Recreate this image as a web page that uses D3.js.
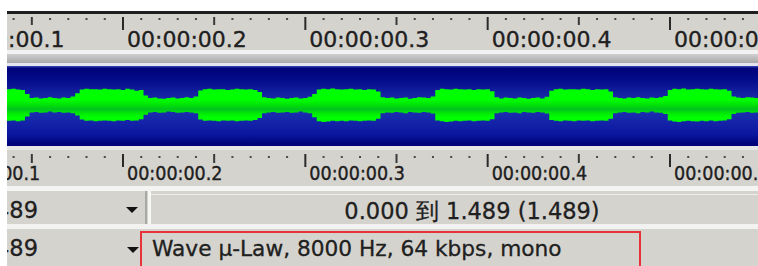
<!DOCTYPE html>
<html><head><meta charset="utf-8">
<script src="https://cdn.jsdelivr.net/npm/d3@7"></script>
<style>body{margin:0;background:#fff}svg{display:block}</style>
</head><body><svg id="c" width="758" height="266"></svg>
<script>
// waveform envelope, sampled every 0.0025 s starting at 0.135 s (amplitude in % of full scale)
const sampleStart = 0.135, sampleStep = 0.0025;
const envTop = [
  38, 42, 43, 41, 40,
  30, 20, 21, 19, 20, 22, 20, 19, 21, 20, 24, 32,
  41, 43, 42, 42, 41, 43, 42, 41, 42, 40, 43, 41, 38, 40,
  26, 20, 21, 19, 18, 20, 21, 19, 20, 22, 20, 24,
  39, 42, 43, 41, 42, 42, 40, 41, 43, 42, 41, 42, 40, 35,
  22, 20, 19, 21, 20, 18, 20, 21, 19, 20, 23,
  30, 41, 43, 42, 44, 42, 41, 42, 43, 41, 42, 40, 42, 41, 36,
  22, 20, 21, 19, 20, 21, 18, 20, 22, 21, 20, 24,
  40, 43, 42, 41, 43, 42, 41, 42, 40, 42, 41, 42, 37,
  22, 19, 21, 20, 19, 21, 20, 18, 20, 21, 19, 23,
  38, 42, 43, 41, 42, 42, 41, 43, 42, 40, 42, 41, 42, 36,
  22, 20, 19, 21, 20, 22, 20, 19, 21, 20, 22, 25,
  40, 43, 42, 44, 41, 42, 43, 42, 41, 43, 42, 41, 42, 38,
  24, 21, 20, 22, 21, 20, 21
];
const envBot = [
  -35, -37, -36, -38, -36,
  -26, -16, -15, -17, -16, -14, -16, -15, -17, -16, -18, -24,
  -34, -37, -36, -38, -37, -36, -37, -38, -36, -37, -35, -37, -36, -33,
  -22, -16, -15, -17, -16, -14, -15, -17, -16, -15, -16, -18,
  -34, -37, -36, -37, -38, -36, -37, -36, -38, -37, -36, -37, -35, -30,
  -18, -16, -15, -17, -16, -15, -17, -16, -14, -16, -18,
  -28, -38, -40, -39, -37, -38, -37, -38, -36, -37, -38, -37, -36, -37, -32,
  -18, -16, -17, -15, -16, -18, -15, -16, -17, -15, -16, -19,
  -36, -38, -40, -39, -37, -38, -37, -36, -38, -37, -36, -37, -33,
  -18, -16, -15, -17, -16, -18, -15, -16, -17, -15, -16, -19,
  -35, -37, -38, -36, -37, -38, -36, -37, -36, -38, -37, -36, -37, -32,
  -18, -16, -15, -17, -16, -18, -15, -16, -14, -16, -17, -20,
  -36, -39, -40, -38, -37, -38, -39, -37, -38, -36, -38, -37, -36, -33,
  -20, -17, -16, -15, -17, -16, -15
];
const majorTicks = [0.1, 0.2, 0.3, 0.4, 0.5];
const majorLabels = ["00:00:00.1", "00:00:00.2", "00:00:00.3", "00:00:00.4", "00:00:00.5"];
const minorStepMs = 10;      // dot every 10 ms
const mediumStepMs = 50;     // short tick every 50 ms
const sideValue = "1.489";
const statusRange = "0.000 到 1.489 (1.489)";
const statusFormat = "Wave µ-Law, 8000 Hz, 64 kbps, mono";

const W = 758, H = 266, GRAY = "#d5d3ce", INK = "#202020";
const svg = d3.select("#c");
const defs = svg.append("defs");
defs.append("clipPath").attr("id", "clip").append("rect").attr("x", 7).attr("y", 0).attr("width", W - 7).attr("height", H);

const blue = defs.append("linearGradient").attr("id", "blue").attr("x1", 0).attr("y1", 0).attr("x2", 0).attr("y2", 1);
[[0, "#3a48b8"], [0.03, "#00037a"], [0.15, "#020a88"], [0.5, "#2233b4"], [0.85, "#0a18a0"], [0.97, "#00037a"], [1, "#00037a"]]
  .forEach(([o, c]) => blue.append("stop").attr("offset", o).attr("stop-color", c));
const green = defs.append("linearGradient").attr("id", "green").attr("gradientUnits", "userSpaceOnUse")
  .attr("x1", 0).attr("y1", 66).attr("x2", 0).attr("y2", 146);
[[0, "#00ff00"], [0.42, "#00ff00"], [0.49, "#00e008"], [0.54, "#00c41c"], [0.59, "#00e806"], [0.64, "#00ff00"], [1, "#00ff00"]]
  .forEach(([o, c]) => green.append("stop").attr("offset", o).attr("stop-color", c));
const shade = defs.append("linearGradient").attr("id", "shade").attr("x1", 0).attr("y1", 0).attr("x2", 0).attr("y2", 1);
[[0, "#cfcfcf"], [1, "#a9a9a9"]].forEach(([o, c]) => shade.append("stop").attr("offset", o).attr("stop-color", c));

const g = svg.append("g").attr("clip-path", "url(#clip)");
const x = d3.scaleLinear().domain([0.2, 0.5]).range([123, 670]);
const y = d3.scaleLinear().domain([-100, 100]).range([146, 66]);

const band = (y0, y1, fill) => g.append("rect").attr("x", 0).attr("y", y0).attr("width", W).attr("height", y1 - y0).attr("fill", fill);
band(11, 14, "#1e1e1e");
band(14, 50, GRAY);
band(50, 54, "#f2f2f2");
band(54, 63, "url(#shade)");
band(63, 66, "#e4e4f0");
band(66, 146, "url(#blue)");
band(146, 150, "#e6e6e6");
band(150, 186, GRAY);
band(186, 191, "#f4f4f2");
band(191, 224, GRAY);
band(224, 229, "#f2f2f0");
band(229, 266, GRAY);

// waveform
const data = envTop.map((v, i) => ({ t: sampleStart + i * sampleStep, hi: v, lo: envBot[i] }));
g.append("path").datum(data)
  .attr("d", d3.area().curve(d3.curveStep).x(d => x(d.t)).y0(d => y(d.lo)).y1(d => y(d.hi)))
  .attr("fill", "url(#green)");

// rulers
const msTicks = d3.range(130, 551, minorStepMs);
function ruler(dotY, tickY, medLen, majLen, labelY, font, size) {
  msTicks.forEach(ms => {
    const px = x(ms / 1000);
    if (ms % 100 === 0) {
      g.append("rect").attr("x", px - 1).attr("y", tickY).attr("width", 2).attr("height", majLen).attr("fill", "#2a2a2a");
    } else if (ms % mediumStepMs === 0) {
      g.append("rect").attr("x", px - 1).attr("y", tickY).attr("width", 2).attr("height", medLen).attr("fill", "#3a3a3a");
    } else {
      g.append("rect").attr("x", px - 1).attr("y", dotY).attr("width", 2).attr("height", 2).attr("fill", "#4a4a4a");
    }
  });
  majorTicks.forEach((t, i) => {
    g.append("text").attr("x", x(t) + 4).attr("y", labelY).attr("font-family", font).attr("font-size", size)
      .attr("fill", INK).attr("stroke", INK).attr("stroke-width", 0.35).text(majorLabels[i]);
  });
}
ruler(18, 17, 8, 13, 47, "DejaVu Sans", 22);
ruler(156, 154, 9, 13, 180, "DejaVu Sans Condensed", 19.5);

// status rows
const statusFont = "DejaVu Sans";
const txt = (px, py, s, size, anchor) => g.append("text").attr("x", px).attr("y", py).attr("text-anchor", anchor)
  .attr("font-family", statusFont).attr("font-size", size).attr("fill", INK).attr("stroke", INK).attr("stroke-width", 0.3).text(s);
txt(38, 218, sideValue, 22.5, "end");
txt(38, 256, sideValue, 22.5, "end");
g.append("path").attr("d", "M126,207L138,207L132,213Z").attr("fill", "#111");
g.append("path").attr("d", "M127,247L139,247L133,253Z").attr("fill", "#111");
g.append("rect").attr("x", 145).attr("y", 191).attr("width", 2).attr("height", 33).attr("fill", "#a8a8a6");
g.append("rect").attr("x", 148).attr("y", 191).attr("width", 3).attr("height", 33).attr("fill", "#f6f6f4");
g.append("rect").attr("x", 151).attr("y", 194).attr("width", W).attr("height", 1).attr("fill", "#eeeeec");
txt(472, 219, statusRange, 22.5, "middle");
txt(152, 256, statusFormat, 21.7, "start");
g.append("rect").attr("x", 141).attr("y", 232).attr("width", 499).attr("height", 50).attr("fill", "none").attr("stroke", "#e8323a").attr("stroke-width", 2);
</script></body></html>
